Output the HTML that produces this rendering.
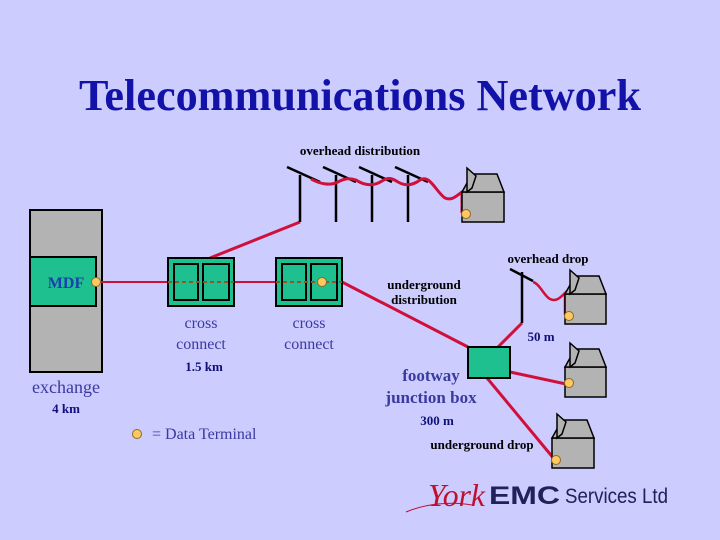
<!DOCTYPE html>
<html><head><meta charset="utf-8"><style>
html,body{margin:0;padding:0;background:#ccccff;}
svg{display:block;}
text{font-family:"Liberation Serif",serif;}
</style></head><body>
<svg width="720" height="540" viewBox="0 0 720 540" xmlns="http://www.w3.org/2000/svg">
<rect width="720" height="540" fill="#ccccff"/>
<text x="360" y="110" text-anchor="middle" font-size="44" font-weight="bold" fill="#1212a8" textLength="562" lengthAdjust="spacingAndGlyphs">Telecommunications Network</text>
<text x="360" y="155" text-anchor="middle" font-size="13" font-weight="bold" fill="#000">overhead distribution</text>

<!-- exchange -->
<rect x="30" y="210" width="72" height="162" fill="#b3b3b3" stroke="#000" stroke-width="2"/>
<rect x="30" y="257" width="66" height="49" fill="#1fc090" stroke="#000" stroke-width="2"/>
<text x="66" y="288" text-anchor="middle" font-size="16" font-weight="bold" fill="#1a3fb0">MDF</text>
<text x="66" y="393" text-anchor="middle" font-size="18" fill="#3a3aa0">exchange</text>
<text x="66" y="413" text-anchor="middle" font-size="13" font-weight="bold" fill="#10107a">4 km</text>

<!-- lines -->
<line x1="96" y1="282" x2="168" y2="282" stroke="#d0103a" stroke-width="2"/>
<line x1="234" y1="282" x2="276" y2="282" stroke="#d0103a" stroke-width="2"/>
<line x1="210" y1="258" x2="300" y2="222" stroke="#d0103a" stroke-width="3"/>
<line x1="342" y1="282" x2="468" y2="347" stroke="#d0103a" stroke-width="3"/>
<line x1="498" y1="347" x2="522" y2="323" stroke="#d0103a" stroke-width="3"/>
<line x1="510" y1="372" x2="566" y2="384" stroke="#d0103a" stroke-width="3"/>
<line x1="487" y1="378" x2="555" y2="460" stroke="#d0103a" stroke-width="3"/>

<!-- cross connects -->
<g stroke="#000" stroke-width="2" fill="#1fc090">
<rect x="168" y="258" width="66" height="48"/>
<rect x="174" y="264" width="24" height="36"/>
<rect x="203" y="264" width="26" height="36"/>
<rect x="276" y="258" width="66" height="48"/>
<rect x="282" y="264" width="24" height="36"/>
<rect x="311" y="264" width="26" height="36"/>
</g>
<line x1="168" y1="282" x2="234" y2="282" stroke="#8a5a20" stroke-width="2" stroke-dasharray="4,3"/>
<line x1="276" y1="282" x2="342" y2="282" stroke="#8a5a20" stroke-width="2" stroke-dasharray="4,3"/>
<text x="201" y="328" text-anchor="middle" font-size="16" fill="#3a3aa0">cross</text>
<text x="201" y="349" text-anchor="middle" font-size="16" fill="#3a3aa0">connect</text>
<text x="309" y="328" text-anchor="middle" font-size="16" fill="#3a3aa0">cross</text>
<text x="309" y="349" text-anchor="middle" font-size="16" fill="#3a3aa0">connect</text>
<text x="204" y="371" text-anchor="middle" font-size="13" font-weight="bold" fill="#10107a">1.5 km</text>

<!-- poles -->
<g stroke="#000" stroke-width="2.5">
<line x1="300" y1="175" x2="300" y2="222"/><line x1="287" y1="167" x2="320" y2="182"/>
<line x1="336" y1="175" x2="336" y2="222"/><line x1="323" y1="167" x2="356" y2="182"/>
<line x1="372" y1="175" x2="372" y2="222"/><line x1="359" y1="167" x2="392" y2="182"/>
<line x1="408" y1="175" x2="408" y2="222"/><line x1="395" y1="167" x2="428" y2="182"/>
<line x1="522" y1="272" x2="522" y2="323"/><line x1="510" y1="269" x2="533" y2="281"/>
</g>
<path d="M311,179 C320,184 330,186 338,182 C345,178 350,178 356,180 C365,186 374,186 382,181 C388,177 392,178 398,182 C405,186 412,186 420,180 C430,174 436,192 445,198 C452,201 456,196 462,192 L462,213" fill="none" stroke="#d0103a" stroke-width="3"/>
<path d="M533,282 C540,284 544,296 550,299 C556,302 560,298 565,293 L565,315" fill="none" stroke="#d0103a" stroke-width="2.5"/>

<!-- houses -->
<g stroke="#000" stroke-width="1.5" fill="#b3b3b3">
<g transform="translate(462,168)"><rect x="0" y="24" width="42" height="30"/><polygon points="0,24 10,6 35,6 42,24"/><polygon points="5,0 14,8 10,20 5,24"/></g>
<g transform="translate(565,270)"><rect x="0" y="24" width="41" height="30"/><polygon points="0,24 10,6 34,6 41,24"/><polygon points="5,0 14,8 10,20 5,24"/></g>
<g transform="translate(565,343)"><rect x="0" y="24" width="41" height="30"/><polygon points="0,24 10,6 34,6 41,24"/><polygon points="5,0 14,8 10,20 5,24"/></g>
<g transform="translate(552,414)"><rect x="0" y="24" width="42" height="30"/><polygon points="0,24 10,6 35,6 42,24"/><polygon points="5,0 14,8 10,20 5,24"/></g>
</g>

<!-- junction box -->
<rect x="468" y="347" width="42" height="31" fill="#1fc090" stroke="#000" stroke-width="2"/>

<!-- dots -->
<g fill="#ffc860" stroke="#8a6a20" stroke-width="1">
<circle cx="96" cy="282" r="4.5"/><circle cx="322" cy="282" r="4.5"/>
<circle cx="466" cy="214" r="4.5"/><circle cx="569" cy="316" r="4.5"/>
<circle cx="569" cy="383" r="4.5"/><circle cx="556" cy="460" r="4.5"/>
<circle cx="137" cy="434" r="4.5"/>
</g>

<text x="548" y="263" text-anchor="middle" font-size="13" font-weight="bold" fill="#000">overhead drop</text>
<text x="424" y="289" text-anchor="middle" font-size="13" font-weight="bold" fill="#000">underground</text>
<text x="424" y="304" text-anchor="middle" font-size="13" font-weight="bold" fill="#000">distribution</text>
<text x="541" y="341" text-anchor="middle" font-size="13" font-weight="bold" fill="#10107a">50 m</text>
<text x="431" y="381" text-anchor="middle" font-size="17" font-weight="bold" fill="#3a3aa0">footway</text>
<text x="431" y="403" text-anchor="middle" font-size="17" font-weight="bold" fill="#3a3aa0">junction box</text>
<text x="437" y="425" text-anchor="middle" font-size="13" font-weight="bold" fill="#10107a">300 m</text>
<text x="482" y="449" text-anchor="middle" font-size="13" font-weight="bold" fill="#000">underground drop</text>
<text x="152" y="439" font-size="16" fill="#3a3aa0">= Data Terminal</text>

<!-- logo -->
<text x="428" y="506" font-size="32" font-style="italic" fill="#c01030" textLength="57" lengthAdjust="spacingAndGlyphs">York</text>
<path d="M406,512 C425,504 450,501 472,505" fill="none" stroke="#c01030" stroke-width="1"/>
<text x="489" y="504" font-size="25" font-weight="900" fill="#20205a" style="font-family:'Liberation Sans',sans-serif" textLength="71" lengthAdjust="spacingAndGlyphs">EMC</text>
<text x="565" y="503" font-size="21" fill="#20205a" style="font-family:'Liberation Sans',sans-serif" textLength="103" lengthAdjust="spacingAndGlyphs">Services Ltd</text>
</svg>
</body></html>
